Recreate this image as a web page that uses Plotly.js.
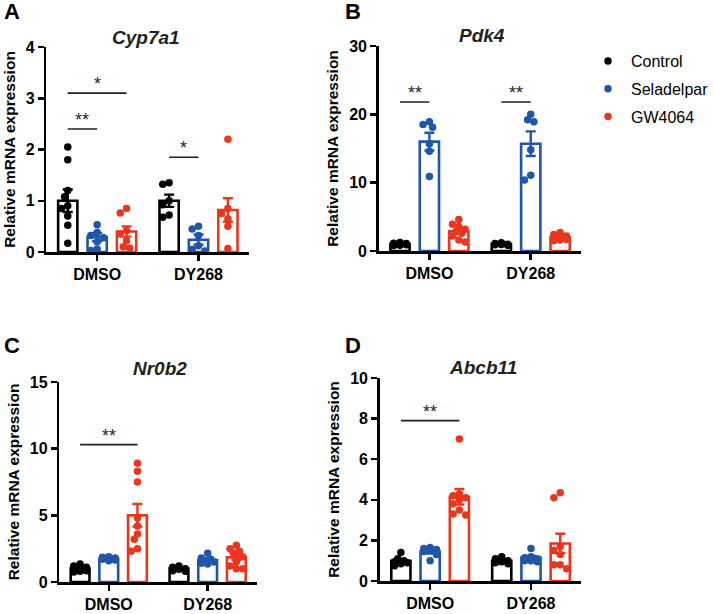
<!DOCTYPE html>
<html>
<head>
<meta charset="utf-8">
<script src="https://cdn.plot.ly/plotly-3.0.1.min.js"></script>
<style>html,body{margin:0;padding:0;background:#fff;}#chart{width:714px;height:614px;}</style>
</head>
<body>
<div id="chart"></div>
<script>
// ---------------- DATA ----------------
const groups = ['DMSO', 'DY268'];
const seriesNames = ['Control', 'Seladelpar', 'GW4064'];
const geneNames = ['Cyp7a1', 'Pdk4', 'Nr0b2', 'Abcb11'];
const panelLetters = ['A', 'B', 'C', 'D'];

// means [series][group]
const cyp7a1Means = [[1.0, 1.0], [0.29, 0.24], [0.40, 0.82]];
const cyp7a1Sems  = [[0.22, 0.12], [0.08, 0.10], [0.10, 0.23]];
const cyp7a1Points = [
  [[2.05, 1.8, 1.2, 1.08, 0.9, 0.85, 0.7, 0.52, 0.17], [1.32, 1.35, 1.0, 0.92, 0.72, 0.68]],
  [[0.53, 0.38, 0.32, 0.28, 0.2, 0.06, 0.03], [0.5, 0.45, 0.32, 0.12, 0.05, 0.02]],
  [[0.85, 0.76, 0.42, 0.35, 0.22, 0.08, 0.1], [2.2, 0.85, 0.75, 0.65, 0.5, 0.07]]
];
const pdk4Means = [[1.0, 1.0], [16.0, 15.7], [2.9, 2.0]];
const pdk4Sems  = [[0.08, 0.05], [1.3, 1.8], [0.35, 0.15]];
const pdk4Points = [
  [[1.25, 1.1, 1.0, 0.95, 0.9, 0.85, 0.8, 1.15], [1.2, 1.1, 1.0, 0.95, 0.9, 0.85]],
  [[18.9, 18.5, 18.1, 15.7, 14.6, 10.9], [20.0, 19.2, 18.9, 14.8, 11.1, 10.4]],
  [[4.6, 3.9, 3.6, 3.2, 2.8, 2.6, 2.2, 1.6, 1.3], [2.7, 2.4, 2.2, 2.0, 1.9, 1.7, 1.6, 1.5]]
];
const nr0b2Means = [[1.0, 1.0], [1.75, 1.65], [5.0, 1.85]];
const nr0b2Sems  = [[0.05, 0.04], [0.05, 0.12], [0.85, 0.2]];
const nr0b2Points = [
  [[1.35, 1.2, 1.1, 1.0, 0.95, 0.85, 0.8, 0.75], [1.2, 1.1, 1.0, 0.95, 0.85, 0.8]],
  [[1.9, 1.85, 1.8, 1.75, 1.7, 1.65, 1.6], [2.15, 1.8, 1.7, 1.6, 1.5, 1.4, 1.35]],
  [[8.9, 8.3, 7.5, 4.8, 4.2, 3.6, 3.2, 2.5, 2.3], [2.75, 2.5, 2.3, 2.2, 1.9, 1.5, 1.2, 1.0, 1.0]]
];
const abcb11Means = [[1.0, 1.0], [1.45, 1.15], [4.15, 1.85]];
const abcb11Sems  = [[0.08, 0.04], [0.1, 0.08], [0.38, 0.48]];
const abcb11Points = [
  [[1.4, 1.1, 1.0, 0.95, 0.9, 0.85, 0.75], [1.2, 1.1, 1.0, 0.95, 0.9, 0.85]],
  [[1.65, 1.6, 1.55, 1.5, 1.45, 1.3, 1.0], [1.6, 1.2, 1.15, 1.1, 1.0, 1.0, 0.95]],
  [[7.0, 4.3, 4.2, 4.1, 4.0, 3.8, 3.5, 3.3, 3.25], [4.35, 4.1, 1.7, 1.5, 1.3, 0.8, 0.8, 0.6]]
];
const yMax = [4, 30, 15, 10];
const yDtick = [1, 10, 5, 2];
// significance brackets: [group, fromSeries, toSeries, yLevel, label]
const cyp7a1Sig = [[0, 0, 1, 2.4, '**'], [0, 0, 2, 3.1, '*'], [1, 0, 1, 1.85, '*']];
const pdk4Sig = [[0, 0, 1, 21.8, '**'], [1, 0, 1, 21.8, '**']];
const nr0b2Sig = [[0, 0, 2, 10.3, '**']];
const abcb11Sig = [[0, 0, 2, 7.9, '**']];

// ---------------- STYLE / LAYOUT ----------------
const colors = ['#000000', '#1f56aa', '#e9361f'];
const W = 714, H = 614;
const FONT = 'Liberation Sans, Arial, sans-serif';
const seriesOffset = [-0.29, 0, 0.29];
const barWidth = 0.19;
// pixel domains [x0,x1,yTop,yBottom]
const domainsPx = [[47, 252, 47, 252], [383, 588, 46, 251], [60, 260, 382, 582], [384, 588, 378, 581]];
const titlePos = [[148, 37], [487, 35], [162, 368], [488, 367]];
const letterPos = [[12, 11], [357, 11], [12, 345], [357, 345]];
const standoffs = [7, 7, 7, 7];

const means = [cyp7a1Means, pdk4Means, nr0b2Means, abcb11Means];
const sems = [cyp7a1Sems, pdk4Sems, nr0b2Sems, abcb11Sems];
const points = [cyp7a1Points, pdk4Points, nr0b2Points, abcb11Points];
const sigs = [cyp7a1Sig, pdk4Sig, nr0b2Sig, abcb11Sig];

// deterministic beeswarm spread within bar
function swarm(vals, pxPerY, pxPerX) {
  const d = 6.2, step = 3.2, maxOff = 9;
  const placed = [];
  const order = vals.map((v, i) => i).sort((a, b) => vals[b] - vals[a]);
  const res = new Array(vals.length).fill(0);
  order.forEach(i => {
    const yp = vals[i] * pxPerY;
    let best = 0, bestOv = Infinity;
    const cands = [0];
    for (let k = 1; k * step <= maxOff; k++) { cands.push(-k * step, k * step); }
    for (const c of cands) {
      let ov = 0;
      for (const p of placed) {
        const dist = Math.hypot(c - p[0], yp - p[1]);
        if (dist < d) ov += d - dist;
      }
      if (ov < bestOv - 1e-9) { bestOv = ov; best = c; }
      if (ov === 0) break;
    }
    placed.push([best, yp]);
    res[i] = best / pxPerX;
  });
  return res;
}

const data = [];
const layout = {
  width: W, height: H, margin: {l: 0, r: 0, t: 0, b: 0},
  paper_bgcolor: '#fff', plot_bgcolor: 'rgba(0,0,0,0)',
  barmode: 'overlay', showlegend: true,
  font: {family: FONT, color: '#000'},
  legend: {x: 592 / W, y: 1 - 44 / H, xanchor: 'left', yanchor: 'top', itemwidth: 36,
           font: {family: FONT, size: 16, color: '#000'}, traceorder: 'grouped',
           tracegroupgap: 4, bgcolor: 'rgba(0,0,0,0)', itemclick: false},
  annotations: [], shapes: []
};

for (let p = 0; p < 4; p++) {
  const sfx = p === 0 ? '' : String(p + 1);
  const xa = 'x' + sfx, ya = 'y' + sfx;
  const [x0, x1, yt, yb] = domainsPx[p];
  const pxPerX = (x1 - x0) / 2;
  const pxPerY = (yb - yt) / yMax[p];
  layout['xaxis' + sfx] = {
    domain: [x0 / W, x1 / W], anchor: ya, range: [-0.5, 1.5],
    tickvals: groups.map((g, i) => i), ticktext: groups,
    ticks: 'outside', ticklen: 6, tickwidth: 2.5, tickcolor: '#000',
    showline: true, linewidth: 2.5, linecolor: '#000', showgrid: false, zeroline: false,
    tickfont: {family: FONT, size: 16, color: '#000', weight: 'bold'}, fixedrange: true
  };
  layout['yaxis' + sfx] = {
    domain: [1 - yb / H, 1 - yt / H], anchor: xa, range: [0, yMax[p]], dtick: yDtick[p],
    ticks: 'outside', ticklen: 6, tickwidth: 2.5, tickcolor: '#000',
    showline: true, linewidth: 2.5, linecolor: '#000', showgrid: false, zeroline: false,
    tickfont: {family: FONT, size: 16, color: '#000', weight: 'bold'}, fixedrange: true,
    title: {text: 'Relative mRNA expression', standoff: standoffs[p],
            font: {family: FONT, size: 15.5, color: '#000', weight: 'bold'}}
  };
  for (let s = 0; s < 3; s++) {
    data.push({
      type: 'bar', xaxis: xa, yaxis: ya, showlegend: false, hoverinfo: 'skip',
      x: groups.map((g, gi) => gi + seriesOffset[s]), y: means[p][s], width: barWidth,
      marker: {color: '#ffffff', line: {color: colors[s], width: 2.6}},
      error_y: {type: 'data', array: sems[p][s], symmetric: true, color: colors[s], thickness: 2.4, width: 5}
    });
  }
  for (let s = 0; s < 3; s++) {
    const xs = [], ys = [];
    groups.forEach((g, gi) => {
      const vals = points[p][s][gi];
      const offs = swarm(vals, pxPerY, pxPerX);
      vals.forEach((v, i) => { xs.push(gi + seriesOffset[s] + offs[i]); ys.push(v); });
    });
    data.push({
      type: 'scatter', mode: 'markers', xaxis: xa, yaxis: ya,
      name: seriesNames[s], legendgroup: seriesNames[s], showlegend: p === 0,
      x: xs, y: ys, marker: {color: colors[s], size: 7.5, line: {width: 0}}, cliponaxis: false
    });
  }
  sigs[p].forEach(([g, a, b, yv, lab]) => {
    const xa0 = g + seriesOffset[a], xb0 = g + seriesOffset[b];
    layout.shapes.push({type: 'line', xref: xa, yref: ya, x0: xa0, x1: xb0, y0: yv, y1: yv,
                        line: {color: '#231f20', width: 1.6}});
    layout.annotations.push({xref: xa, yref: ya, x: (xa0 + xb0) / 2, y: yv, yanchor: 'bottom',
                             text: lab, showarrow: false, yshift: -3,
                             font: {family: FONT, size: 18, color: '#231f20'}});
  });
  layout.annotations.push({xref: 'paper', yref: 'paper', x: titlePos[p][0] / W, y: 1 - titlePos[p][1] / H,
                           xanchor: 'center', yanchor: 'middle', showarrow: false, text: geneNames[p],
                           font: {family: FONT, size: 19, color: '#231f20', style: 'italic', weight: 'bold'}});
  layout.annotations.push({xref: 'paper', yref: 'paper', x: letterPos[p][0] / W, y: 1 - letterPos[p][1] / H,
                           xanchor: 'center', yanchor: 'middle', showarrow: false, text: panelLetters[p],
                           font: {family: FONT, size: 22, color: '#000', weight: 'bold'}});
}

Plotly.newPlot('chart', data, layout, {staticPlot: true, displayModeBar: false});
</script>
</body>
</html>
